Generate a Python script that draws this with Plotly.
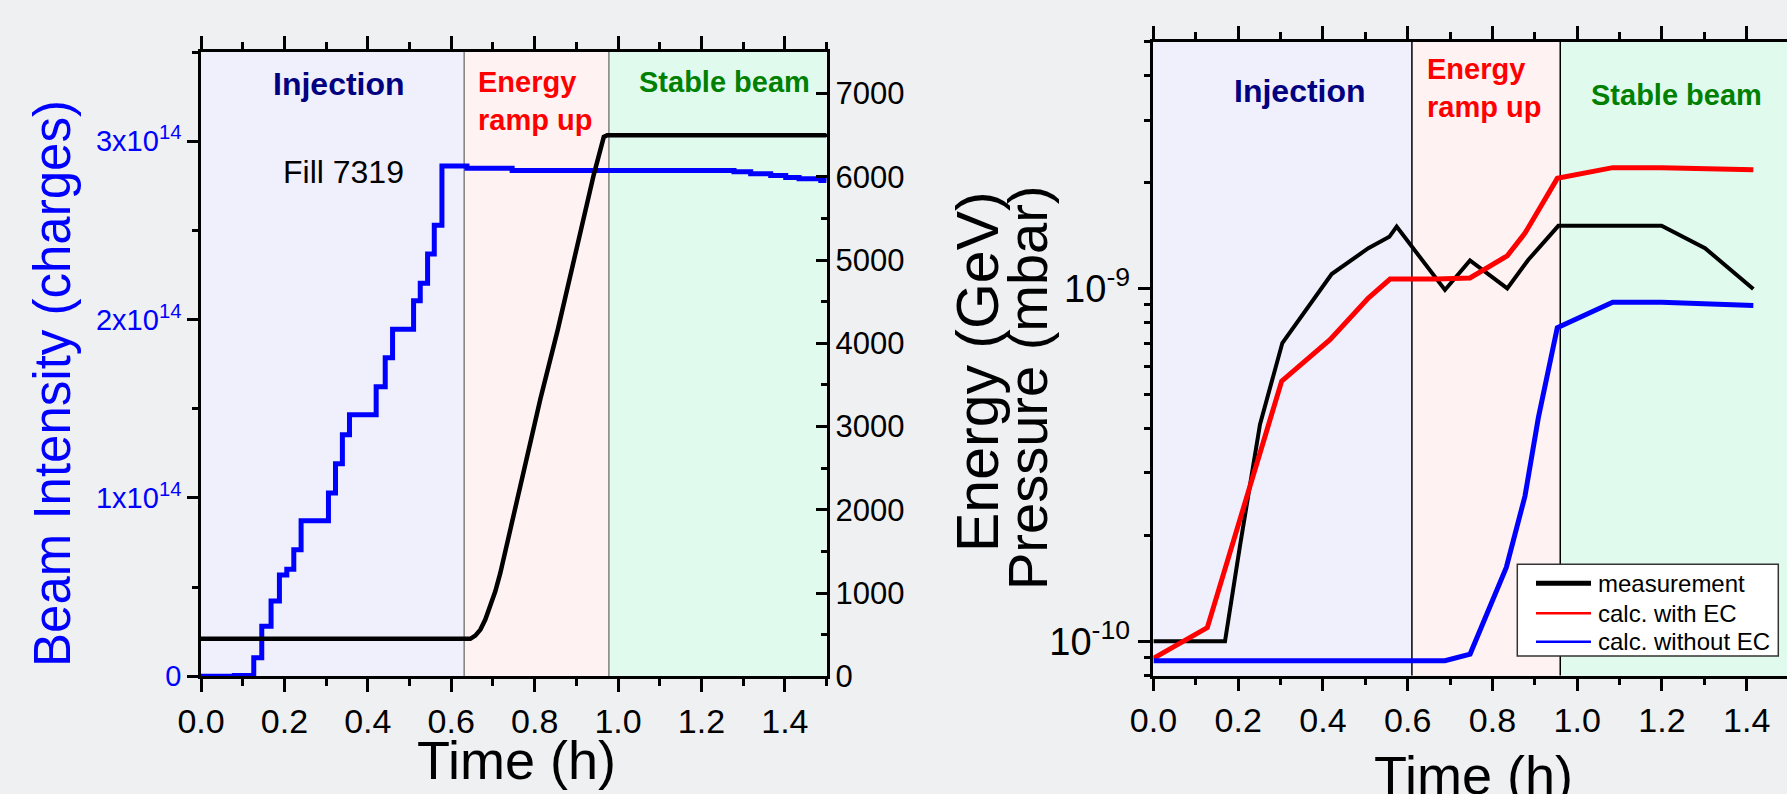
import plotly.graph_objects as go

# ---------------- data ----------------
# Left panel: beam intensity (step) and beam energy vs time
t_intensity = [0, 0.08, 0.1265, 0.1457, 0.168, 0.188, 0.2057, 0.2225, 0.24, 0.3056,
               0.3225, 0.339, 0.356, 0.42, 0.4417, 0.4593, 0.5097, 0.5257, 0.5433,
               0.5593, 0.5777, 0.6377, 0.746, 1.278, 1.318, 1.366, 1.402, 1.434, 1.486, 1.5]
intensity = [0, 0.005e14, 0.104e14, 0.281e14, 0.422e14, 0.568e14, 0.600e14, 0.709e14,
             0.872e14, 1.028e14, 1.191e14, 1.354e14, 1.467e14, 1.623e14, 1.786e14,
             1.945e14, 2.105e14, 2.204e14, 2.367e14, 2.529e14, 2.861e14, 2.848e14,
             2.836e14, 2.829e14, 2.818e14, 2.808e14, 2.797e14, 2.790e14, 2.780e14, 2.778e14]

t_energy = [0, 0.6457, 0.6577, 0.670, 0.6817, 0.6937, 0.7057, 0.7177, 0.7297, 0.7417,
            0.7657, 0.7897, 0.8137, 0.8555, 0.9418, 0.9658, 0.974, 1.5]
energy = [450, 450, 489, 561, 681, 841, 1021, 1242, 1502, 1762,
          2283, 2804, 3330, 4165, 6027, 6480, 6500, 6500]

# Right panel: pressure vs time
t_meas = [0, 0.169, 0.2043, 0.2515, 0.3042, 0.4207, 0.5072, 0.5567, 0.574, 0.688,
          0.747, 0.835, 0.8847, 0.9555, 1.199, 1.3016, 1.4156]
p_meas = [1.0e-10, 1.0e-10, 1.864e-10, 4.115e-10, 7.0e-10, 1.098e-9, 1.30e-9, 1.40e-9,
          1.496e-9, 0.99e-9, 1.2e-9, 1.0e-9, 1.205e-9, 1.504e-9, 1.504e-9, 1.30e-9, 0.996e-9]

t_with_ec = [0, 0.1272, 0.3027, 0.4167, 0.5072, 0.5584, 0.6685, 0.747, 0.835, 0.8768,
             0.9531, 1.0838, 1.199, 1.2976, 1.4156]
p_with_ec = [8.95e-11, 1.093e-10, 5.46e-10, 7.16e-10, 9.39e-10, 1.063e-9, 1.063e-9,
             1.07e-9, 1.237e-9, 1.434e-9, 2.05e-9, 2.198e-9, 2.198e-9, 2.19e-9, 2.167e-9]

t_without_ec = [0, 0.688, 0.7473, 0.8327, 0.8768, 0.9083, 0.953, 1.0838, 1.199, 1.4156]
p_without_ec = [8.81e-11, 8.81e-11, 9.2e-11, 1.62e-10, 2.58e-10, 4.3e-10, 7.73e-10,
                9.13e-10, 9.13e-10, 8.95e-10]

series_names = ["measurement", "calc. with EC", "calc. without EC"]

# Phase boundaries (h)
phases_left = [0.631, 0.978]
phases_right = [0.610, 0.960]
phase_names = ["Injection", "Energy<br>ramp up", "Stable beam"]

x_ticks = [0, 0.2, 0.4, 0.6, 0.8, 1.0, 1.2, 1.4]
x_ticktext = ["0.0", "0.2", "0.4", "0.6", "0.8", "1.0", "1.2", "1.4"]
intensity_ticks = [0, 1e14, 2e14, 3e14]
intensity_ticktext = ["0", "1x10<sup>14</sup>", "2x10<sup>14</sup>", "3x10<sup>14</sup>"]
energy_ticks = [0, 1000, 2000, 3000, 4000, 5000, 6000, 7000]
pressure_ticks = [1e-10, 1e-9]
pressure_ticktext = ["10<sup>-10</sup>", "10<sup>-9</sup>"]
pressure_minor = [8e-11, 9e-11, 2e-10, 3e-10, 4e-10, 5e-10, 6e-10, 7e-10, 8e-10, 9e-10,
                  2e-9, 3e-9, 4e-9, 5e-9]

# ---------------- layout helpers ----------------
W, H = 1787, 794
FONT = "Liberation Sans, Arial, Helvetica, sans-serif"
BG = "#eff0f1"
C_INJ = "#f0f0fd"
C_RAMP = "#fef2f2"
C_STAB = "#e0fbee"
SERIES_COLORS = ["black", "#ff0000", "#0000ff"]


def fx(p):
    return p / W


def fy(p):
    return 1 - p / H


fig = go.Figure()

# Left panel traces
fig.add_trace(go.Scatter(x=t_intensity, y=intensity, mode="lines", line=dict(color="#0000ff", width=5, shape="hv"),
                         xaxis="x", yaxis="y", showlegend=False))
fig.add_trace(go.Scatter(x=t_energy, y=energy, mode="lines", line=dict(color="black", width=4.5),
                         xaxis="x", yaxis="y2", showlegend=False))

# Right panel traces
fig.add_trace(go.Scatter(x=t_meas, y=p_meas, mode="lines", line=dict(color=SERIES_COLORS[0], width=4),
                         xaxis="x2", yaxis="y3", name=series_names[0], showlegend=False))
fig.add_trace(go.Scatter(x=t_with_ec, y=p_with_ec, mode="lines", line=dict(color=SERIES_COLORS[1], width=5),
                         xaxis="x2", yaxis="y3", name=series_names[1], showlegend=False))
fig.add_trace(go.Scatter(x=t_without_ec, y=p_without_ec, mode="lines", line=dict(color=SERIES_COLORS[2], width=5),
                         xaxis="x2", yaxis="y3", name=series_names[2], showlegend=False))

shapes = []
# left shading
for (x0, x1, c) in [(0, phases_left[0], C_INJ), (phases_left[0], phases_left[1], C_RAMP), (phases_left[1], 1.5, C_STAB)]:
    shapes.append(dict(type="rect", xref="x", yref="y domain", x0=x0, x1=x1, y0=0, y1=1,
                       fillcolor=c, line=dict(width=0), layer="below"))
for xb in phases_left:
    shapes.append(dict(type="line", xref="x", yref="y domain", x0=xb, x1=xb, y0=0, y1=1,
                       line=dict(color="#7f7f7f", width=1.5), layer="below"))
# right shading
for (x0, x1, c) in [(0, phases_right[0], C_INJ), (phases_right[0], phases_right[1], C_RAMP), (phases_right[1], 1.6, C_STAB)]:
    shapes.append(dict(type="rect", xref="x2", yref="y3 domain", x0=x0, x1=x1, y0=0, y1=1,
                       fillcolor=c, line=dict(width=0), layer="below"))
for xb in phases_right:
    shapes.append(dict(type="line", xref="x2", yref="y3 domain", x0=xb, x1=xb, y0=0, y1=1,
                       line=dict(color="black", width=1.5), layer="below"))

ann = []


def A(text, x, y, size, color="black", bold=False, angle=0, xanchor="center", yanchor="middle", align="center"):
    t = f"<b>{text}</b>" if bold else text
    ann.append(dict(text=t, x=fx(x), y=fy(y), xref="paper", yref="paper", showarrow=False,
                    font=dict(family=FONT, size=size, color=color), textangle=angle,
                    xanchor=xanchor, yanchor=yanchor, align=align))


# legend box (drawn manually for exact row spacing)
LEG_X0, LEG_X1, LEG_Y0, LEG_Y1 = 1517.3, 1778.3, 564.3, 656
leg_rows = [583.3, 613.3, 641.7]
leg_widths = [5, 2.5, 2.5]
shapes.append(dict(type="rect", xref="paper", yref="paper", x0=fx(LEG_X0), x1=fx(LEG_X1),
                   y0=fy(LEG_Y1), y1=fy(LEG_Y0), fillcolor="white",
                   line=dict(color="#333333", width=1.5), layer="above"))
for name, col, lw, ry in zip(series_names, SERIES_COLORS, leg_widths, leg_rows):
    shapes.append(dict(type="line", xref="paper", yref="paper", x0=fx(1536), x1=fx(1591),
                       y0=fy(ry), y1=fy(ry), line=dict(color=col, width=lw), layer="above"))
    A(name, 1596, ry, 24, xanchor="left")

# phase labels left
A(phase_names[0], 339, 84, 32, "#000080", True)
A(phase_names[1], 476, 64, 29, "#ff0000", True, xanchor="left", yanchor="top", align="left")
A(phase_names[2], 724, 82, 29, "#008000", True)
A("Fill 7319", 343, 172, 32)
# phase labels right
A(phase_names[0], 1300, 91, 32, "#000080", True)
A(phase_names[1], 1425, 51, 29, "#ff0000", True, xanchor="left", yanchor="top", align="left")
A(phase_names[2], 1676, 95, 29, "#008000", True)

# axis titles
A("Beam Intensity (charges)", 52, 384, 51, "#0000ff", angle=-90)
A("Energy (GeV)", 978, 372, 59, angle=-90)
A("Pressure (mbar)", 1027, 388, 56, angle=-90)
A("Time (h)", 516, 760, 54)
A("Time (h)", 1473, 775, 54)

axis_common = dict(showline=True, linecolor="black", linewidth=2.5, ticks="outside", tickcolor="black",
                   tickwidth=2.5, showgrid=False, zeroline=False, automargin=False)

fig.update_layout(
    width=W, height=H,
    margin=dict(l=0, r=0, t=0, b=0, pad=0, autoexpand=False),
    paper_bgcolor=BG, plot_bgcolor=BG,
    font=dict(family=FONT, color="black"),
    shapes=shapes, annotations=ann,
    showlegend=False,
    xaxis=dict(domain=[fx(201), fx(826.6)], range=[0, 1.5], anchor="y",
               tickvals=x_ticks, ticktext=x_ticktext, ticklen=13, mirror="ticks",
               tickfont=dict(size=34, color="black"),
               minor=dict(dtick=0.1, tick0=0, ticks="outside", ticklen=7, tickwidth=2.5, tickcolor="black"),
               **axis_common),
    yaxis=dict(domain=[fy(676.3), fy(52)], range=[0, 3.5e14], anchor="x",
               tickvals=intensity_ticks, ticktext=intensity_ticktext, ticklen=11,
               tickfont=dict(size=29, color="#0000ff"),
               minor=dict(dtick=0.5e14, tick0=0, ticks="outside", ticklen=6, tickwidth=2.5, tickcolor="black"),
               **axis_common),
    yaxis2=dict(overlaying="y", side="right", anchor="x", range=[0, 7500],
                tickvals=energy_ticks, ticklen=11,
                tickfont=dict(size=31, color="black"),
                minor=dict(dtick=500, tick0=0, ticks="inside", ticklen=6, tickwidth=2.5, tickcolor="black"),
                **{**axis_common, "ticks": "inside"}),
    xaxis2=dict(domain=[fx(1153.4), 1.0], range=[0, (W - 1153.4) / 423.8], anchor="y3",
                tickvals=x_ticks, ticktext=x_ticktext, ticklen=13, mirror="ticks",
                tickfont=dict(size=34, color="black"),
                minor=dict(dtick=0.1, tick0=0, ticks="outside", ticklen=7, tickwidth=2.5, tickcolor="black"),
                **axis_common),
    yaxis3=dict(domain=[fy(675.5), fy(41.7)], type="log", range=[-10.0969, -8.30103], anchor="x2",
                tickvals=pressure_ticks, ticktext=pressure_ticktext, ticklen=13,
                tickfont=dict(size=38, color="black"),
                minor=dict(tickmode="array", tickvals=pressure_minor, ticks="outside", ticklen=7,
                           tickwidth=2.5, tickcolor="black"),
                **axis_common),
)

fig.write_html("out.html", config={"displayModeBar": False},
               post_script="document.body.style.margin='0';document.body.style.overflow='hidden';")
